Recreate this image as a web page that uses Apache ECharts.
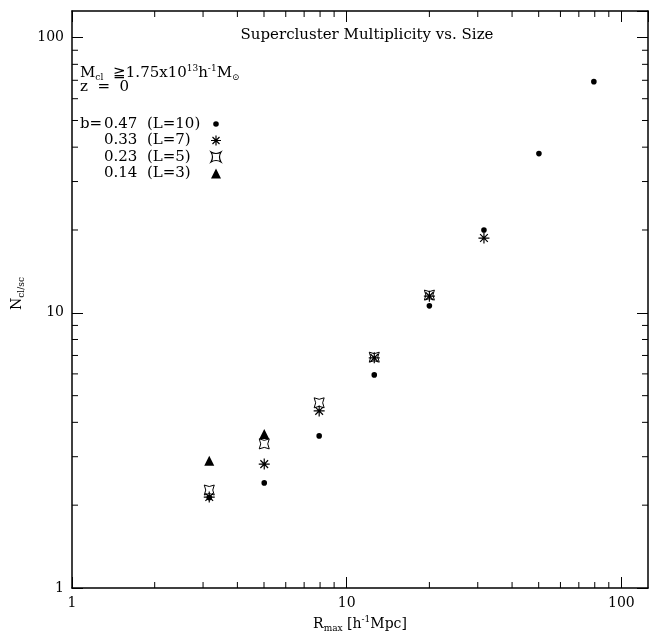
<!DOCTYPE html>
<html>
<head>
<meta charset="utf-8">
<script src="https://cdn.jsdelivr.net/npm/echarts@6/dist/echarts.min.js"></script>
<style>html,body{margin:0;padding:0;background:#fff}#c{width:650px;height:632px}</style>
</head>
<body>
<div id="c"></div>
<script>
// ---- data ----
const rMax = [3.16, 5.01, 7.94, 12.6, 20.0, 31.6, 50.1, 79.4];
const nB047 = [2.13, 2.41, 3.57, 5.95, 10.6, 20.0, 37.9, 69.2];
const nB033 = [2.14, 2.82, 4.40, 6.86, 11.5, 18.7];
const nB023 = [2.27, 3.34, 4.71, 6.90, 11.6];
const nB014 = [2.90, 3.63];
const seriesNames = ['0.47  (L=10)', '0.33  (L=7)', '0.23  (L=5)', '0.14  (L=3)'];
const majorTicks = [1, 10, 100];
const minorTicks = [2, 3, 4, 5, 6, 7, 8, 9, 20, 30, 40, 50, 60, 70, 80, 90];
const axisMin = 1, axisMax = 125;

const FONT = 'DejaVu Serif';
const pair = (xs, ys) => ys.map((y, i) => [xs[i], y]);

const dotPath = 'path://M0,0 L0.01,0 Z M10,10 L9.99,10 Z M2.2,5 A2.8,2.8 0 1,1 7.8,5 A2.8,2.8 0 1,1 2.2,5 Z';
const starPath = 'path://M0,5 L10,5 M5,0 L5,10 M1.5,1.5 L8.5,8.5 M8.5,1.5 L1.5,8.5';
const crossPath = 'path://M0,0 Q5,3 10,0 Q7,5 10,10 Q5,7 0,10 Q3,5 0,0 Z';

const mkRich = (fs) => ({
  t: {fontFamily: FONT, fontSize: fs, color: '#000', lineHeight: 18, verticalAlign: 'middle'},
  sub: {fontFamily: FONT, fontSize: 9, color: '#000', lineHeight: 9, verticalAlign: 'bottom'},
  sup: {fontFamily: FONT, fontSize: 9, color: '#000', lineHeight: 9, verticalAlign: 'top'}
});

const baseAxis = (pos, showLabel) => ({
  type: 'log', logBase: 10, min: axisMin, max: axisMax, position: pos,
  axisLine: {show: true, lineStyle: {color: '#000', width: 1.5}},
  axisTick: {show: true, inside: true, length: 11, lineStyle: {color: '#000', width: 1}},
  minorTick: {show: false},
  splitLine: {show: false},
  axisLabel: {
    show: showLabel, margin: 8, fontFamily: FONT, fontSize: 14, color: '#000',
    showMaxLabel: false,
    formatter: v => majorTicks.indexOf(Math.round(v)) >= 0 ? String(Math.round(v)) : ''
  }
});

const xBottom = Object.assign(baseAxis('bottom', true), {
  name: '{t|R}{sub|max}{t| [h}{sup|-1}{t|Mpc]}', nameLocation: 'middle', nameGap: 19,
  nameTextStyle: {rich: mkRich(14)}
});
const yLeft = Object.assign(baseAxis('left', true), {
  name: '{t|N}{sub|cl/sc}', nameLocation: 'middle', nameGap: 44, nameRotate: 90,
  nameTextStyle: {rich: mkRich(14), padding: [0, 0, 0, 12]}
});

function minorX(params, api) {
  const px = api.coord([api.value(0), 1])[0];
  const cs = params.coordSys;
  const b = cs.y + cs.height;
  return {type: 'group', children: [
    {type: 'line', shape: {x1: px, y1: b, x2: px, y2: b - 6}, style: {stroke: '#000', lineWidth: 1}},
    {type: 'line', shape: {x1: px, y1: cs.y, x2: px, y2: cs.y + 6}, style: {stroke: '#000', lineWidth: 1}}
  ]};
}
function minorY(params, api) {
  const py = api.coord([1, api.value(1)])[1];
  const cs = params.coordSys;
  const r = cs.x + cs.width;
  return {type: 'group', children: [
    {type: 'line', shape: {x1: cs.x, y1: py, x2: cs.x + 6, y2: py}, style: {stroke: '#000', lineWidth: 1}},
    {type: 'line', shape: {x1: r, y1: py, x2: r - 6, y2: py}, style: {stroke: '#000', lineWidth: 1}}
  ]};
}

const chart = echarts.init(document.getElementById('c'), null, {renderer: 'canvas'});
chart.setOption({
  animation: false,
  backgroundColor: '#fff',
  title: {
    text: 'Supercluster Multiplicity vs. Size', left: 362, top: 23, textAlign: 'center',
    textStyle: {fontFamily: FONT, fontSize: 15, fontWeight: 'normal', color: '#000'}
  },
  grid: {left: 72, top: 11, width: 576, height: 577, containLabel: false, outerBoundsMode: 'none'},
  xAxis: [xBottom, baseAxis('top', false)],
  yAxis: [yLeft, baseAxis('right', false)],
  legend: {
    orient: 'vertical', left: 80, top: 116, align: 'right', padding: 0,
    itemWidth: 10, itemHeight: 10, itemGap: 0.5,
    data: seriesNames.map((n, i) => ({name: n, itemStyle: {borderWidth: i === 1 || i === 2 ? 1.2 : 0}})),
    formatter: name => '{p|' + (seriesNames.indexOf(name) === 0 ? 'b=' : ' ') + '}{t|' + name + '}',
    textStyle: {
      fontFamily: FONT, fontSize: 15, color: '#000', lineHeight: 16,
      rich: {
        p: {fontFamily: FONT, fontSize: 15, color: '#000', width: 24, lineHeight: 16, align: 'left'},
        t: {fontFamily: FONT, fontSize: 15, color: '#000', width: 102, lineHeight: 16, align: 'left'}
      }
    }
  },
  graphic: [
    {type: 'text', left: 80, top: 64, style: {
      text: '{t|M}{sub|cl}{t|  \u22671.75x10}{sup|13}{t|h}{sup|-1}{t|M}{sub|\u2299}',
      rich: mkRich(15)}},
    {type: 'text', left: 80, top: 80, style: {text: '{t|z  =  0}', rich: mkRich(15)}}
  ],
  series: [
    {name: seriesNames[0], type: 'scatter', data: pair(rMax, nB047), symbol: dotPath, symbolSize: 10,
     itemStyle: {color: '#000', borderColor: '#000', borderWidth: 0, opacity: 1}},
    {name: seriesNames[1], type: 'scatter', data: pair(rMax, nB033), symbol: starPath, symbolSize: 11,
     itemStyle: {color: '#000', borderColor: '#000', borderWidth: 1.2, opacity: 1}},
    {name: seriesNames[2], type: 'scatter', data: pair(rMax, nB023), symbol: crossPath, symbolSize: 10,
     itemStyle: {color: 'rgba(0,0,0,0)', borderColor: '#000', borderWidth: 1, opacity: 1}},
    {name: seriesNames[3], type: 'scatter', data: pair(rMax, nB014), symbol: 'triangle', symbolSize: 10,
     itemStyle: {color: '#000', borderColor: '#000', borderWidth: 0, opacity: 1}},
    {type: 'custom', renderItem: minorX, data: minorTicks.map(v => [v, 1]), silent: true, clip: false, z: 1},
    {type: 'custom', renderItem: minorY, data: minorTicks.map(v => [1, v]), silent: true, clip: false, z: 1}
  ]
});
</script>
</body>
</html>
